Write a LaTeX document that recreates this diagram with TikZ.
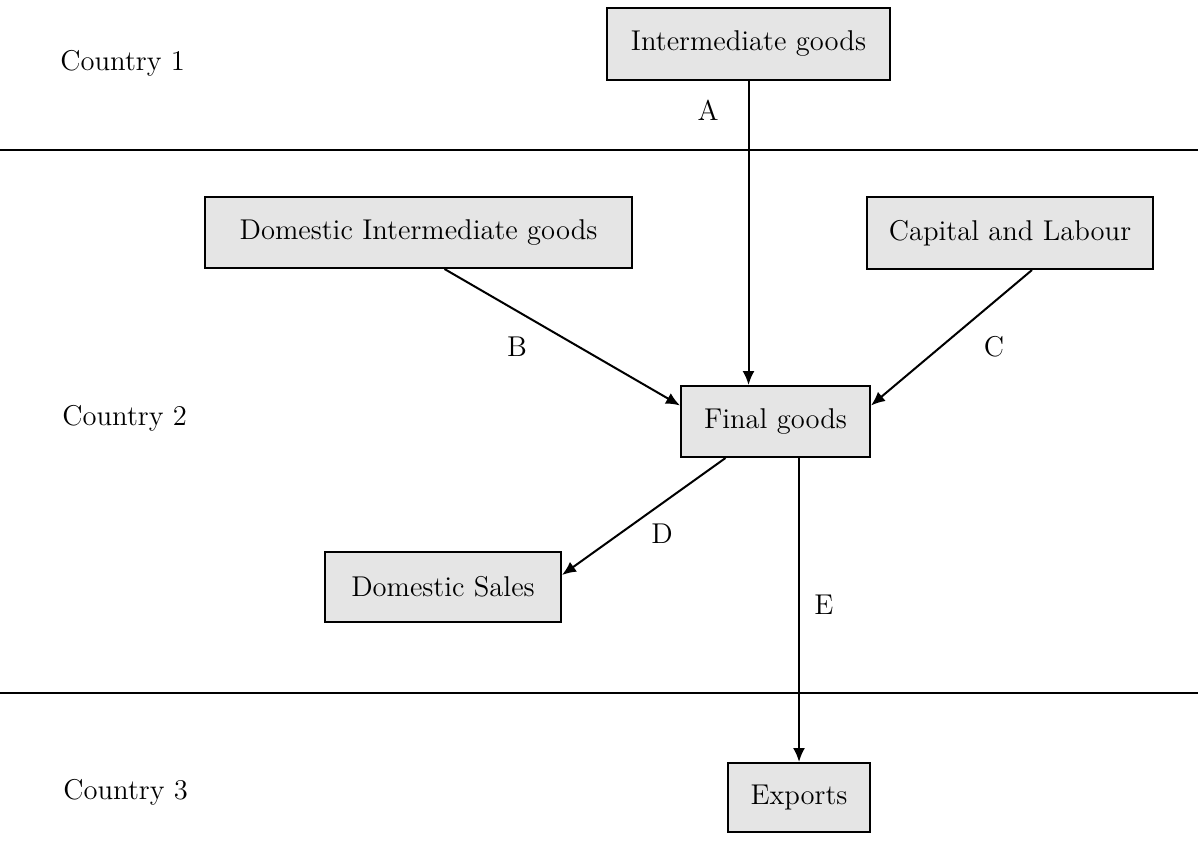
\documentclass[tikz,border=0pt]{standalone}
\usepackage{tikz}
\usetikzlibrary{arrows.meta}
\tikzset{>={Latex[length=7pt,width=6pt]}}
\colorlet{boxfill}{gray!20}
\tikzset{goods/.style={draw,line width=1pt,fill=boxfill,inner sep=0pt,font=\fontsize{14.3}{16}\selectfont}}
\tikzset{flow/.style={->,line width=1pt}}
\tikzset{lbl/.style={inner sep=0pt,font=\fontsize{14.3}{16}\selectfont}}
\tikzset{border/.style={line width=1.3pt}}

\begin{document}
\begin{tikzpicture}[x=0.5pt,y=-0.5pt]
                    \useasboundingbox (0,0) rectangle (1198,840);

                    \draw[border] (0,150) -- (1198,150);
                    \draw[border] (0,693) -- (1198,693);

                    \node[lbl,anchor=west] (c1) at (60,63) {Country 1};
                    \node[lbl,anchor=west] (c2) at (62,418) {Country 2};
                    \node[lbl,anchor=west] (c3) at (63,792) {Country 3};

                    \node[goods,minimum width=141.5pt,minimum height=36pt] (inter) at (748.5,44) {Intermediate goods};
                    \node[goods,minimum width=213.5pt,minimum height=35.5pt] (domint) at (418.5,232.5) {Domestic Intermediate goods};
                    \node[goods,minimum width=143pt,minimum height=36pt] (cap) at (1010,233) {Capital and Labour};
                    \node[goods,minimum width=94.5pt,minimum height=35.5pt] (final) at (775.5,421.5) {Final goods};
                    \node[goods,minimum width=118pt,minimum height=35pt] (sales) at (443,587) {Domestic Sales};
                    \node[goods,minimum width=71pt,minimum height=34.5pt] (exports) at (799,797.5) {Exports};

                    \draw[flow] (inter.south) -- (inter.south |- final.north);
                    \draw[flow] ([xshift=13pt]domint.south) -- ([yshift=8pt]final.west);
                    \draw[flow] ([xshift=11pt]cap.south) -- ([yshift=8pt]final.east);
                    \draw[flow] ([xshift=-25pt]final.south) -- ([yshift=6pt]sales.east);
                    \draw[flow] (final.south -| exports.north) -- (exports.north);

                    \node[lbl] (la) at (708,110) {A};
                    \node[lbl] (lb) at (517,347) {B};
                    \node[lbl] (lc) at (994,347) {C};
                    \node[lbl] (ld) at (662,534) {D};
                    \node[lbl] (le) at (824,605) {E};
                \end{tikzpicture}
\end{document}
